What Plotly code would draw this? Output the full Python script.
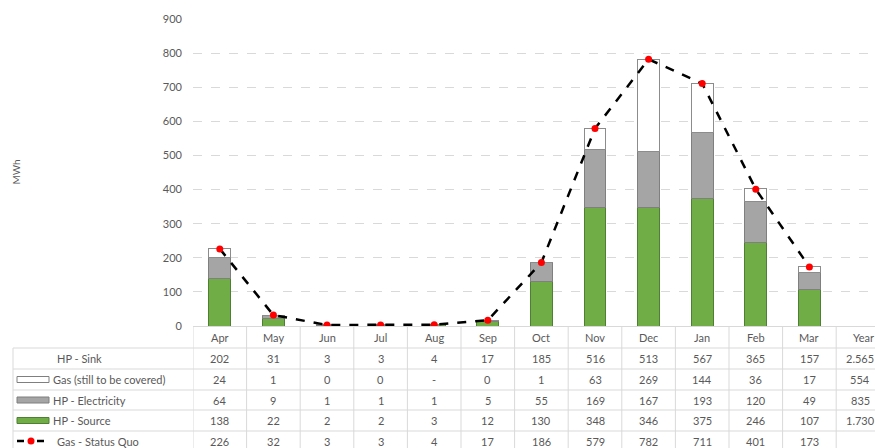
import plotly.graph_objects as go

# Monthly heat balance (MWh)
months = ["Apr", "May", "Jun", "Jul", "Aug", "Sep", "Oct", "Nov", "Dec", "Jan", "Feb", "Mar"]
columns = months + ["Year"]

hp_sink = [202, 31, 3, 3, 4, 17, 185, 516, 513, 567, 365, 157]
gas_to_cover = [24, 1, 0, 0, None, 0, 1, 63, 269, 144, 36, 17]
hp_electricity = [64, 9, 1, 1, 1, 5, 55, 169, 167, 193, 120, 49]
hp_source = [138, 22, 2, 2, 3, 12, 130, 348, 346, 375, 246, 107]
gas_status_quo = [226, 32, 3, 3, 4, 17, 186, 579, 782, 711, 401, 173]

# yearly totals as printed in the table
year_totals = {
    "HP - Sink": "2.565",
    "Gas (still to be covered)": "554",
    "HP - Electricity": "835",
    "HP - Source": "1.730",
    "Gas - Status Quo": "",
}

GREEN = "#70ad47"
GREEN_EDGE = "#4f7f32"
GREY = "#a5a5a5"
EDGE = "#8c8c8c"
TXT = "#595959"
GRID = "#d9d9d9"
FONT = "Lato"

# page geometry (pixels)
W, H = 875, 448
L, T, B = 193, 19, 122
PLOT_W = W - L
PLOT_H = H - T - B


def px_x(p):
    return (p - L) / PLOT_W


def px_y(p):
    return (H - B - p) / PLOT_H


fig = go.Figure()

fig.add_bar(x=months, y=hp_source, name="HP - Source",
            marker=dict(color=GREEN, line=dict(color=GREEN_EDGE, width=1)))
fig.add_bar(x=months, y=hp_electricity, name="HP - Electricity",
            marker=dict(color=GREY, line=dict(color="#7f7f7f", width=1)))
fig.add_bar(x=months, y=[v if v is not None else 0 for v in gas_to_cover],
            name="Gas (still to be covered)",
            marker=dict(color="white", line=dict(color=EDGE, width=1)))
fig.add_scatter(x=months, y=gas_status_quo, name="Gas - Status Quo",
                mode="lines+markers",
                line=dict(color="black", width=2.5, dash="dash"),
                marker=dict(color="#ff0000", size=7))

shapes = []
annotations = []

# table rows: label, values, legend key
rows = [
    ("HP - Sink", hp_sink, None),
    ("Gas (still to be covered)", gas_to_cover, "white"),
    ("HP - Electricity", hp_electricity, "grey"),
    ("HP - Source", hp_source, "green"),
    ("Gas - Status Quo", gas_status_quo, "line"),
]
row_lines = [348, 369, 390, 410, 431]
row_centers = [358.5, 379.5, 400, 420.5, 441]
label_x = [55, 51, 51, 51, 55]

# header row with month names
for c in columns:
    annotations.append(dict(x=c, y=px_y(337.5), xref="x", yref="paper", text=c,
                            showarrow=False, font=dict(family=FONT, size=11, color=TXT),
                            xanchor="center", yanchor="middle"))

# horizontal grid lines of the table
for yl in row_lines:
    shapes.append(dict(type="line", xref="paper", yref="paper",
                       x0=px_x(13), x1=1, y0=px_y(yl), y1=px_y(yl),
                       line=dict(color=GRID, width=1)))

# vertical grid lines between columns
for i in range(len(columns)):
    shapes.append(dict(type="line", xref="x", yref="paper",
                       x0=i - 0.5, x1=i - 0.5, y0=0, y1=px_y(H + 5),
                       line=dict(color=GRID, width=1)))
shapes.append(dict(type="line", xref="paper", yref="paper",
                   x0=px_x(13), x1=px_x(13), y0=px_y(348), y1=px_y(H + 5),
                   line=dict(color=GRID, width=1)))

for (label, vals, key), yc, lx in zip(rows, row_centers, label_x):
    annotations.append(dict(x=px_x(lx), y=px_y(yc), xref="paper", yref="paper",
                            text=label, showarrow=False, xanchor="left", yanchor="middle",
                            font=dict(family=FONT, size=11, color=TXT)))
    for m, v in zip(months, vals):
        annotations.append(dict(x=m, y=px_y(yc), xref="x", yref="paper",
                                text="-" if v is None else str(v), showarrow=False,
                                xanchor="center", yanchor="middle",
                                font=dict(family=FONT, size=11, color=TXT)))
    # the year column is narrow at the page edge: pull its text in a little
    annotations.append(dict(x="Year", y=px_y(yc), xref="x", yref="paper",
                            text=year_totals[label], showarrow=False,
                            xanchor="center", yanchor="middle", xshift=-3,
                            font=dict(family=FONT, size=11, color=TXT)))
    # legend keys
    if key in ("white", "grey", "green"):
        fill = {"white": "white", "grey": GREY, "green": GREEN}[key]
        edge = {"white": "#7f7f7f", "grey": "#7f7f7f", "green": GREEN_EDGE}[key]
        shapes.append(dict(type="rect", xref="paper", yref="paper",
                           x0=px_x(17), x1=px_x(49), y0=px_y(yc - 3), y1=px_y(yc + 3),
                           fillcolor=fill, line=dict(color=edge, width=1)))
    elif key == "line":
        shapes.append(dict(type="line", xref="paper", yref="paper",
                           x0=px_x(17), x1=px_x(24), y0=px_y(yc), y1=px_y(yc),
                           line=dict(color="black", width=2.5)))
        shapes.append(dict(type="line", xref="paper", yref="paper",
                           x0=px_x(37), x1=px_x(44), y0=px_y(yc), y1=px_y(yc),
                           line=dict(color="black", width=2.5)))
        shapes.append(dict(type="circle", xref="paper", yref="paper",
                           x0=px_x(27.5), x1=px_x(34.5), y0=px_y(yc - 3.5), y1=px_y(yc + 3.5),
                           fillcolor="#ff0000", line=dict(color="#ff0000", width=0)))

# y-axis title
annotations.append(dict(x=px_x(15), y=0.5, xref="paper", yref="paper", text="MWh",
                        textangle=-90, showarrow=False, xanchor="center", yanchor="middle",
                        font=dict(family=FONT, size=10, color=TXT)))

fig.update_layout(
    width=W, height=H,
    margin=dict(l=L, r=0, t=T, b=B),
    paper_bgcolor="white", plot_bgcolor="white",
    barmode="stack", bargap=0.59,
    showlegend=False,
    shapes=shapes, annotations=annotations,
    font=dict(family=FONT, size=11, color=TXT),
    xaxis=dict(type="category", categoryorder="array", categoryarray=columns,
               range=[-0.5, (W - L) / 53.6 - 0.5], showticklabels=False,
               showgrid=False, showline=True, linecolor=GRID, linewidth=1,
               ticks="", zeroline=False),
    yaxis=dict(range=[0, 900], dtick=100, showgrid=True, gridcolor=GRID,
               griddash="dash", gridwidth=1, zeroline=False, showline=False,
               ticks="", ticklabelstandoff=10,
               tickfont=dict(family=FONT, size=11, color=TXT)),
)

fig.write_html("out.html")
